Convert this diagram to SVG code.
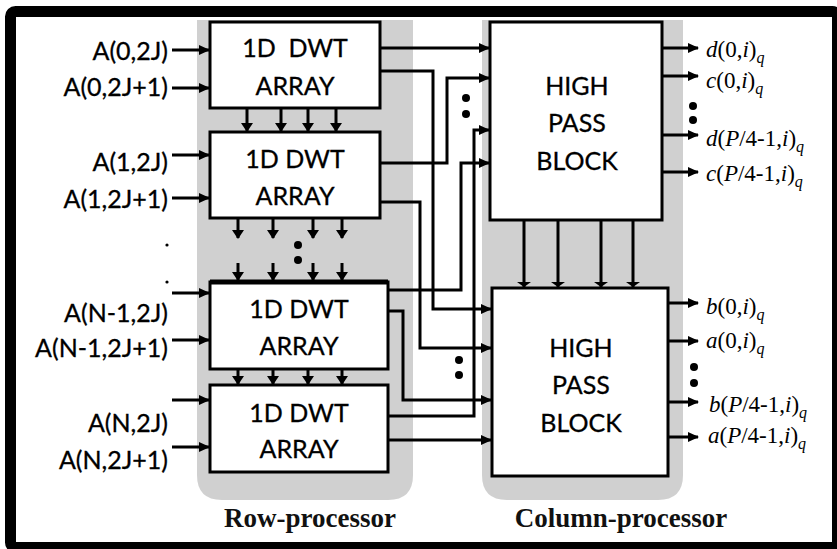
<svg xmlns="http://www.w3.org/2000/svg" width="837" height="549" viewBox="0 0 837 549">
<defs>
<marker id="ah" markerUnits="userSpaceOnUse" markerWidth="11" markerHeight="10" refX="10" refY="5" orient="auto"><path d="M0,0 L11,5 L0,10 z" fill="#000"/></marker>
<marker id="ahs" markerUnits="userSpaceOnUse" markerWidth="9" markerHeight="12" refX="8" refY="6" orient="auto"><path d="M0,0 L9,6 L0,12 z" fill="#000"/></marker>
<marker id="ahf" markerUnits="userSpaceOnUse" markerWidth="5" markerHeight="14" refX="5" refY="7" orient="auto"><path d="M0,0 L5,7 L0,14 z" fill="#000"/></marker>
<style>
.blk{fill:#fff;stroke:#000;stroke-width:3}
.panel{fill:#d0d0d0}
.bt{font-family:Lato,"Open Sans",sans-serif;font-size:25px;text-anchor:middle;fill:#000;stroke:#000;stroke-width:0.3}
.lab{font-family:Lato,"Open Sans",sans-serif;font-size:25px;text-anchor:end;fill:#000;stroke:#000;stroke-width:0.3}
.out{font-family:"Liberation Serif",serif;font-size:23px;fill:#000}
.it{font-style:italic}
.sub{font-style:italic;font-size:16px}
.cap{font-family:"Liberation Serif",serif;font-size:27px;font-weight:bold;text-anchor:middle;fill:#111}
.c{fill:none;stroke:#000;stroke-width:3}
.a{marker-end:url(#ah)}
.s{marker-end:url(#ahs)}
.f{marker-end:url(#ahf)}
</style>
</defs>
<rect x="0" y="0" width="837" height="549" fill="#fff"/>
<rect x="10.5" y="11.5" width="827" height="536" rx="5" fill="#fff" stroke="#000" stroke-width="11"/>

<g id="row-panel">
<path class="panel" d="M197,20 H413 V475 Q413,500 388,500 H222 Q197,500 197,475 Z"/>
<text class="cap" x="310" y="527">Row-processor</text>
</g>
<g id="col-panel">
<path class="panel" d="M482,20 H683 V475 Q683,500 658,500 H507 Q482,500 482,475 Z"/>
<text class="cap" x="621" y="527">Column-processor</text>
</g>

<g id="inputs">
<text class="lab" x="168" y="60">A(0,2J)</text>
<text class="lab" x="168" y="96">A(0,2J+1)</text>
<text class="lab" x="168" y="171">A(1,2J)</text>
<text class="lab" x="168" y="208">A(1,2J+1)</text>
<text class="lab" x="168" y="322">A(N-1,2J)</text>
<text class="lab" x="168" y="357">A(N-1,2J+1)</text>
<text class="lab" x="168" y="432">A(N,2J)</text>
<text class="lab" x="168" y="469">A(N,2J+1)</text>
<circle cx="167" cy="245" r="1.6" fill="#000"/>
<circle cx="167" cy="282" r="1.6" fill="#000"/>
</g>

<g id="dwt1"><rect class="blk" x="210" y="22" width="170" height="86"/><text class="bt" x="295" y="57" xml:space="preserve">1D  DWT</text><text class="bt" x="295" y="95">ARRAY</text></g>
<g id="dwt2"><rect class="blk" x="210" y="132" width="170" height="86"/><text class="bt" x="295" y="168">1D DWT</text><text class="bt" x="295" y="205">ARRAY</text></g>
<g id="dwt3"><rect class="blk" x="210" y="282" width="178" height="87"/><line x1="210" y1="282" x2="388" y2="282" stroke="#000" stroke-width="5"/><text class="bt" x="299" y="318">1D DWT</text><text class="bt" x="299" y="355">ARRAY</text></g>
<g id="dwt4"><rect class="blk" x="210" y="385" width="178" height="87"/><text class="bt" x="299" y="422">1D DWT</text><text class="bt" x="299" y="458">ARRAY</text></g>

<g id="hp1"><rect class="blk" x="490" y="22" width="172" height="198"/><text class="bt" x="577" y="95">HIGH</text><text class="bt" x="577" y="132">PASS</text><text class="bt" x="577" y="170">BLOCK</text></g>
<g id="hp2"><rect class="blk" x="492" y="288" width="176" height="188"/><text class="bt" x="581" y="357">HIGH</text><text class="bt" x="581" y="394">PASS</text><text class="bt" x="581" y="432">BLOCK</text></g>

<g id="outputs">
<text class="out" x="706" y="57"><tspan class="it">d</tspan>(0,<tspan class="it">i</tspan>)<tspan class="sub" dy="6">q</tspan></text>
<text class="out" x="706" y="88"><tspan class="it">c</tspan>(0,<tspan class="it">i</tspan>)<tspan class="sub" dy="6">q</tspan></text>
<text class="out" x="706" y="146"><tspan class="it">d</tspan>(<tspan class="it">P</tspan>/4-1,<tspan class="it">i</tspan>)<tspan class="sub" dy="6">q</tspan></text>
<text class="out" x="706" y="181"><tspan class="it">c</tspan>(<tspan class="it">P</tspan>/4-1,<tspan class="it">i</tspan>)<tspan class="sub" dy="6">q</tspan></text>
<text class="out" x="706" y="314"><tspan class="it">b</tspan>(0,<tspan class="it">i</tspan>)<tspan class="sub" dy="6">q</tspan></text>
<text class="out" x="706" y="348"><tspan class="it">a</tspan>(0,<tspan class="it">i</tspan>)<tspan class="sub" dy="6">q</tspan></text>
<text class="out" x="709" y="412"><tspan class="it">b</tspan>(<tspan class="it">P</tspan>/4-1,<tspan class="it">i</tspan>)<tspan class="sub" dy="6">q</tspan></text>
<text class="out" x="708" y="443"><tspan class="it">a</tspan>(<tspan class="it">P</tspan>/4-1,<tspan class="it">i</tspan>)<tspan class="sub" dy="6">q</tspan></text>
</g>

<g id="dots" fill="#000">
<circle cx="298" cy="245" r="4"/><circle cx="298" cy="260" r="4"/>
<circle cx="466" cy="98" r="4"/><circle cx="466" cy="114" r="4"/>
<circle cx="459" cy="360" r="4"/><circle cx="459" cy="375" r="4"/>
<circle cx="693" cy="106" r="4"/><circle cx="693" cy="120" r="4"/>
<circle cx="694" cy="367" r="4"/><circle cx="694" cy="383" r="4"/>
</g>

<g id="connectors">
<path class="c a" d="M172,50 H209"/>
<path class="c a" d="M172,88 H209"/>
<path class="c a" d="M172,155 H209"/>
<path class="c a" d="M172,198 H209"/>
<path class="c a" d="M172,293 H209"/>
<path class="c a" d="M172,340 H209"/>
<path class="c a" d="M172,400 H209"/>
<path class="c a" d="M172,447 H209"/>

<path class="c s" d="M247,108 V131"/><path class="c s" d="M281,108 V131"/><path class="c s" d="M308,108 V131"/><path class="c s" d="M336,108 V131"/>
<path class="c s" d="M238,218 V238"/><path class="c s" d="M273,218 V238"/><path class="c s" d="M313,218 V238"/><path class="c s" d="M342,218 V238"/>
<path class="c s" d="M238,263 V280"/><path class="c s" d="M273,263 V280"/><path class="c s" d="M313,263 V280"/><path class="c s" d="M342,263 V280"/>
<path class="c s" d="M238,369 V384"/><path class="c s" d="M273,369 V384"/><path class="c s" d="M308,369 V384"/><path class="c s" d="M342,369 V384"/>

<path class="c a" d="M380,48 H489"/>
<path class="c a" d="M380,71 H433 V309 H491"/>
<path class="c a" d="M380,163 H447 V78 H489"/>
<path class="c a" d="M380,202 H420 V348 H491"/>
<path class="c a" d="M388,290 H461 V163 H489"/>
<path class="c a" d="M388,311 H403 V400 H491"/>
<path class="c a" d="M388,416 H474 V130 H489"/>
<path class="c a" d="M388,440 H491"/>

<path class="c f" d="M524,220 V287"/><path class="c f" d="M558,220 V287"/><path class="c f" d="M601,220 V287"/><path class="c f" d="M633,220 V287"/>

<path class="c a" d="M662,48 H698"/>
<path class="c a" d="M662,76 H698"/>
<path class="c a" d="M662,135 H698"/>
<path class="c a" d="M662,172 H698"/>
<path class="c a" d="M668,303 H698"/>
<path class="c a" d="M668,341 H698"/>
<path class="c a" d="M668,402 H698"/>
<path class="c a" d="M668,437 H698"/>
</g>
</svg>
